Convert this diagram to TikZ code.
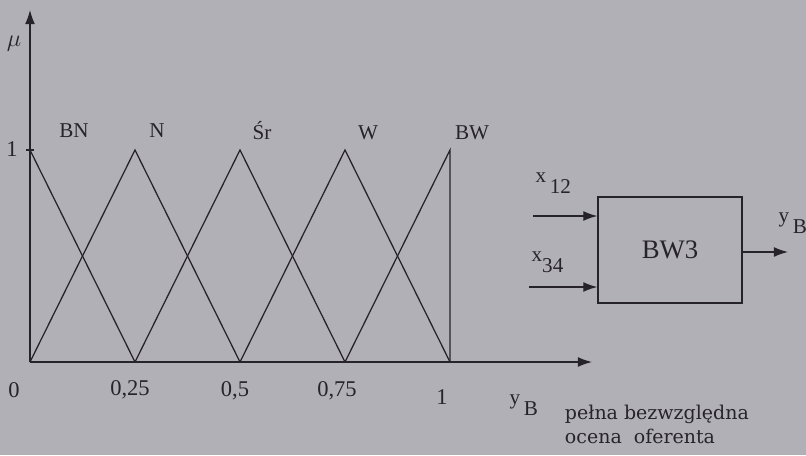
\documentclass[tikz,border=0pt]{standalone}
\usepackage{fontspec}
\setmainfont{Liberation Serif}
\newfontfamily\descfont{DejaVu Serif}
\usepackage{tikz}
\usetikzlibrary{positioning,arrows.meta,calc}
\definecolor{paper}{RGB}{177,176,182}
\definecolor{ink}{RGB}{38,36,42}

\begin{document}
\begin{tikzpicture}[
    x=0.025cm, y=-0.025cm,
    ink/.style={draw=ink, line width=0.9pt},
    arr/.style={ink, -{Latex[length=10pt,width=7pt]}},
    lbl/.style={text=ink, font=\fontsize{15}{17}\selectfont, inner sep=1pt},
    num/.style={text=ink, font=\fontsize{16}{18}\selectfont, inner sep=1pt},
    blk/.style={draw=ink, line width=0.9pt, minimum width=3.6cm,
                minimum height=2.65cm, text=ink,
                font=\fontsize{19}{21}\selectfont}
]
  \fill[paper] (0,0) rectangle (806,455);
  \useasboundingbox (0,0) rectangle (806,455);

  % axes
  \coordinate (o) at (30,362);
  \coordinate (ytop) at (30,10);
  \coordinate (xend) at (592,362);
  \draw[arr] (o) -- (ytop);
  \draw[arr] (o) -- (xend);
  \draw[ink] (26,150) -- (34,150);
  \node[lbl, font=\fontsize{19}{21}\selectfont] (mu) at (14,44) {$\mu$};
  \node[num] (one) at (12,149) {1};

  % tick points
  \foreach \n/\x in {a/30,b/135,c/240,d/345,e/450}{
    \coordinate (\n0) at (\x,362);
    \coordinate (\n1) at (\x,150);
  }

  % membership functions
  \draw[ink] (a1) -- (b0);
  \draw[ink] (a0) -- (b1) -- (c0);
  \draw[ink] (b0) -- (c1) -- (d0);
  \draw[ink] (c0) -- (d1) -- (e0);
  \draw[ink] (d0) -- (e1) -- (e0);

  \node[lbl] (bn) at (74,131) {BN};
  \node[lbl] (n) at (157,131) {N};
  \node[lbl] (sr) at (262,131) {Śr};
  \node[lbl] (w) at (368,133) {W};
  \node[lbl] (bw) at (472,133) {BW};

  \node[num] (t0) at (14,390) {0};
  \node[num] (t1) at (130,390) {0,25};
  \node[num] (t2) at (235,391) {0,5};
  \node[num] (t3) at (337,391) {0,75};
  \node[num] (t4) at (442,397) {1};

  \node[lbl, anchor=west] (yb) at (508,405) {y\raisebox{-1.2ex}{\,B}};
  \node[text=ink, font=\descfont\fontsize{13.5}{17}\selectfont, align=left,
        anchor=west] (desc) at (560,424) {pełna bezwzględna\\ocena\ \ oferenta};

  % block
  \node[blk] (bw3) at (670,250) {BW3};
  \coordinate (in1) at (533,216);
  \coordinate (in2) at (529,287);
  \coordinate (out) at (788,252);
  \draw[arr] (in1) -- (bw3.west |- in1);
  \draw[arr] (in2) -- (bw3.west |- in2);
  \draw[arr] (bw3.east |- out) -- (out);
  \node[lbl, anchor=west] (x12) at (534,183) {x\raisebox{-1.1ex}{\,12}};
  \node[lbl, anchor=west] (x34) at (530,262) {x\raisebox{-1.1ex}{34}};
  \node[lbl, anchor=west] (yout) at (777,223) {y\raisebox{-1.2ex}{\,B}};
\end{tikzpicture}
\end{document}
